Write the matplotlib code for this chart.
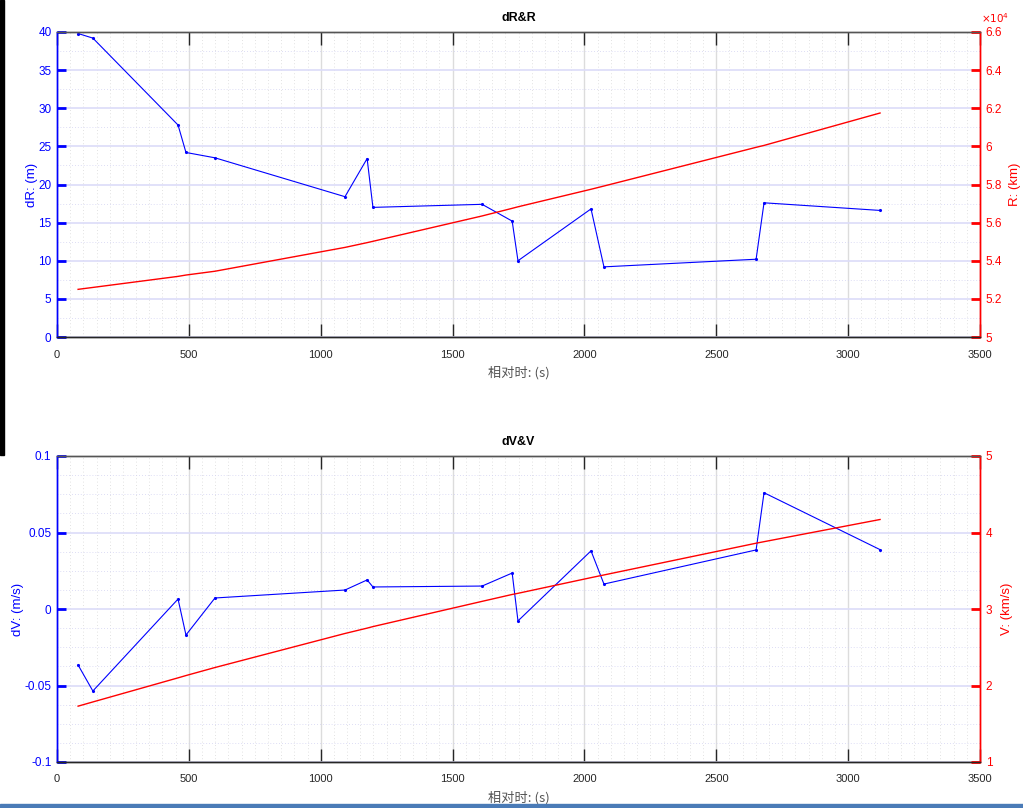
import matplotlib
matplotlib.use("Agg")
import matplotlib.pyplot as plt
from matplotlib.ticker import MultipleLocator, FuncFormatter
from matplotlib.patches import Rectangle

plt.rcParams['font.family'] = ['Liberation Sans', 'DejaVu Sans']

# relative time of each measurement (s)
t = [80, 136, 459, 489, 599, 1092, 1176, 1198, 1612, 1726, 1748,
     2025, 2074, 2651, 2681, 3121]

# range error (m) and range (km)
dR = [39.8, 39.2, 27.8, 24.2, 23.5, 18.4, 23.4, 17.0, 17.4, 15.2, 10.0,
      16.8, 9.2, 10.2, 17.6, 16.6]
R = [52500, 52600, 53180, 53250, 53450, 54700, 54950, 55020, 56350, 56750,
     56830, 57750, 57920, 59950, 60050, 61750]

# velocity error (m/s) and velocity (km/s)
dV = [-0.0366, -0.0536, 0.0065, -0.0170, 0.0072, 0.0124, 0.0190, 0.0144,
      0.0150, 0.0235, -0.0078, 0.0380, 0.0163, 0.0386, 0.0760, 0.0388]
V = [1.73, 1.785, 2.10, 2.13, 2.235, 2.68, 2.75, 2.77, 3.10, 3.19, 3.205,
     3.41, 3.445, 3.86, 3.88, 4.17]

xlabel = '相对时: (s)'
cjk = ['Noto Sans CJK SC', 'DejaVu Sans']
dark = '#262626'
blue = (0, 0, 1)
red = (1, 0, 0)

fig = plt.figure(figsize=(10.23, 8.08), dpi=100)

# screen edge strips
fig.patches.append(Rectangle((0, 1 - 455 / 808), 4 / 1023, 455 / 808,
                             transform=fig.transFigure, color='black', zorder=5))
fig.patches.append(Rectangle((0, 0), 1, 4 / 808, transform=fig.transFigure,
                             color='#4a7bb7', zorder=5))


def setup(ax, axr, title, ylab, rlab, ylim, ymaj, ymin, rlim, rmaj, rfmt,
          ypad, rpad):
    ax.set_xlim(0, 3500)
    ax.set_ylim(*ylim)
    axr.set_ylim(*rlim)
    ax.xaxis.set_major_locator(MultipleLocator(500))
    ax.xaxis.set_minor_locator(MultipleLocator(50))
    ax.yaxis.set_major_locator(MultipleLocator(ymaj))
    ax.yaxis.set_minor_locator(MultipleLocator(ymin))
    axr.yaxis.set_major_locator(MultipleLocator(rmaj))
    ax.yaxis.set_major_formatter(FuncFormatter(lambda v, p: '%g' % round(v, 6)))
    axr.yaxis.set_major_formatter(FuncFormatter(rfmt))

    ax.xaxis.grid(True, which='major', color='#dcdcdc', lw=1.0)
    ax.xaxis.grid(True, which='minor', color='#d8d8d8', lw=0.6, ls=(0, (1, 3)))
    ax.yaxis.grid(True, which='major', color='#dcdcf8', lw=1.2)
    ax.yaxis.grid(True, which='minor', color='#d2d2f2', lw=0.6, ls=(0, (1, 2.5)))
    ax.set_axisbelow(True)

    ax.tick_params(axis='x', which='major', direction='in', length=9.5, width=1.0,
                   top=True, bottom=True, color=dark, labelcolor=dark,
                   labelsize=8, pad=9)
    ax.tick_params(axis='y', which='major', direction='in', length=6.5, width=2.0,
                   color=blue, labelcolor=blue, labelsize=8.5, pad=4)
    ax.tick_params(which='minor', length=0)
    axr.tick_params(axis='y', which='major', direction='in', length=6.5, width=2.0,
                    color=red, labelcolor=red, labelsize=8.5, pad=4)
    axr.tick_params(which='minor', length=0)

    for a in (ax, axr):
        a.spines['top'].set_color('#555555')
        a.spines['bottom'].set_color(dark)
        a.spines['left'].set_color(blue)
        a.spines['right'].set_color(red)
        for s in a.spines.values():
            s.set_linewidth(1.0)

    ax.set_title(title, fontsize=9, fontweight='bold', color='black', pad=8)
    ax.set_ylabel(ylab, color=blue, fontsize=9.5, labelpad=ypad)
    axr.set_ylabel(rlab, color=red, fontsize=9.5, labelpad=rpad)
    ax.set_xlabel(xlabel, family=cjk, color='#555555', fontsize=9.5, labelpad=5)


# range plot
ax1 = fig.add_axes([57 / 1023, 1 - 337 / 808, 923 / 1023, 305 / 808])
ax1r = ax1.twinx()
ax1.plot(t, dR, color=blue, lw=0.8, marker='.', ms=2.5)
ax1r.plot(t, R, color=red, lw=1.0)
setup(ax1, ax1r, 'dR&R', 'dR: (m)', 'R: (km)', (0, 40), 5, 2.5,
      (50000, 66000), 2000, lambda v, p: '%g' % round(v / 1e4, 4), 0.5, 5)
ax1r.annotate(r'$\times 10^{4}$', xy=(1.0, 1.0), xycoords='axes fraction',
              xytext=(1, 5), textcoords='offset points', color=red,
              fontsize=7.5, ha='left', va='bottom', family='DejaVu Sans')

# velocity plot
ax2 = fig.add_axes([57 / 1023, 1 - 762 / 808, 923 / 1023, 306 / 808])
ax2r = ax2.twinx()
ax2.plot(t, dV, color=blue, lw=0.8, marker='.', ms=2.5)
ax2r.plot(t, V, color=red, lw=1.0)
setup(ax2, ax2r, 'dV&V', 'dV: (m/s)', 'V: (km/s)', (-0.1, 0.1), 0.05, 0.0125,
      (1, 5), 1, lambda v, p: '%g' % v, 0, 6)

fig.savefig('out.png', dpi=100)
